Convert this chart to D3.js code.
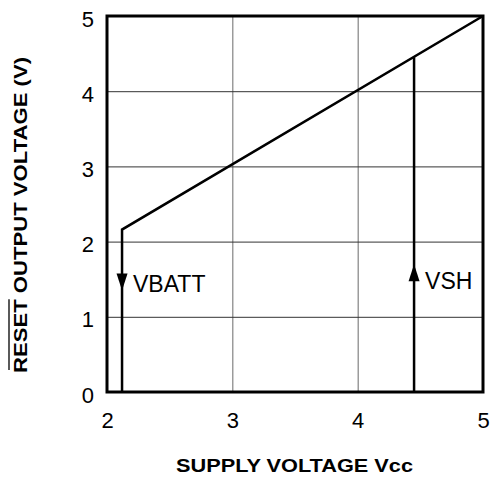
<!DOCTYPE html>
<html>
<head>
<meta charset="utf-8">
<script src="https://cdn.jsdelivr.net/npm/d3@7"></script>
<style>
  body { margin: 0; background: #fff; }
  text { font-family: Arial, "Liberation Sans", sans-serif; fill: #000; }
  .tick text { font-size: 22px; }
</style>
</head>
<body>
<div id="chart"></div>
<script>
// data
var xTicks = [2, 3, 4, 5];
var yTicks = [0, 1, 2, 3, 4, 5];
var resetX = [2.12, 2.12, 5];      // reset output curve
var resetY = [0, 2.16, 5];
var vshX = [4.45, 4.45];           // VSH threshold line
var vshY = [0, 4.45];
var markerNames = ["VBATT", "VSH"];
var markerX = [2.12, 4.45];
var markerTipY = [1.35, 1.70];
var markerDir = [1, -1];            // 1 = points down, -1 = points up
var labelY = [1.33, 1.37];

var width = 490, height = 481;
var margin = {top: 16, right: 7, bottom: 89, left: 107};
var w = width - margin.left - margin.right,
    h = height - margin.top - margin.bottom;

var svg = d3.select("#chart").append("svg")
    .attr("width", width).attr("height", height);

var g = svg.append("g")
    .attr("transform", "translate(" + margin.left + "," + margin.top + ")");

var x = d3.scaleLinear().domain([2, 5]).range([0, w]);
var y = d3.scaleLinear().domain([0, 5]).range([h, 0]);

// grid
var gx = g.append("g")
    .attr("transform", "translate(0," + h + ")")
    .call(d3.axisBottom(x).tickValues(xTicks).tickSize(-h).tickFormat(""));
gx.select(".domain").remove();
gx.selectAll("line").attr("stroke", "#6a6a6a").attr("stroke-width", 1);

var gy = g.append("g")
    .call(d3.axisLeft(y).tickValues(yTicks).tickSize(-w).tickFormat(""));
gy.select(".domain").remove();
gy.selectAll("line").attr("stroke", "#333").attr("stroke-width", 1);

// frame
g.append("rect")
    .attr("x", 0).attr("y", 0).attr("width", w).attr("height", h)
    .attr("fill", "none").attr("stroke", "#000").attr("stroke-width", 3);

// tick labels
var ax = g.append("g")
    .attr("transform", "translate(0," + h + ")")
    .call(d3.axisBottom(x).tickValues(xTicks).tickSize(0).tickPadding(20).tickFormat(d3.format("d")));
ax.select(".domain").remove();
ax.attr("font-size", null).attr("font-family", null);
ax.selectAll("text").attr("fill", "#000");

var ay = g.append("g")
    .call(d3.axisLeft(y).tickValues(yTicks).tickSize(0).tickPadding(13).tickFormat(d3.format("d")));
ay.select(".domain").remove();
ay.attr("font-size", null).attr("font-family", null);
ay.selectAll("text").attr("fill", "#000").attr("y", 3);

// curves
var line = d3.line().x(function(d) { return x(d[0]); }).y(function(d) { return y(d[1]); });

g.append("path")
    .datum(d3.zip(resetX, resetY))
    .attr("d", line)
    .attr("fill", "none").attr("stroke", "#000").attr("stroke-width", 2.5)
    .attr("stroke-linejoin", "miter");

g.append("path")
    .datum(d3.zip(vshX, vshY))
    .attr("d", line)
    .attr("fill", "none").attr("stroke", "#000").attr("stroke-width", 2.5);

// arrows + labels
markerNames.forEach(function(name, i) {
    var px = x(markerX[i]), py = y(markerTipY[i]), dir = markerDir[i];
    g.append("path")
        .attr("d", "M" + px + "," + py + "L" + (px - 5.5) + "," + (py - dir * 17) +
                   "L" + (px + 5.5) + "," + (py - dir * 17) + "Z")
        .attr("fill", "#000");
    g.append("text")
        .attr("x", px + 11)
        .attr("y", y(labelY[i]))
        .style("font-size", "23px")
        .text(name);
});

// axis titles
svg.append("text")
    .attr("x", margin.left + w / 2 - 0.5)
    .attr("y", 472)
    .attr("text-anchor", "middle")
    .attr("textLength", 237)
    .attr("lengthAdjust", "spacingAndGlyphs")
    .style("font-size", "18px").style("font-weight", "bold")
    .text("SUPPLY VOLTAGE Vcc");

var yTitle = "RESET OUTPUT VOLTAGE (V)";
var yLen = 316;
var yt = svg.append("g").attr("transform", "translate(26.5,215) rotate(-90)");
yt.append("text")
    .attr("x", 0).attr("y", 0)
    .attr("text-anchor", "middle")
    .attr("textLength", yLen)
    .attr("lengthAdjust", "spacingAndGlyphs")
    .style("font-size", "18px").style("font-weight", "bold")
    .text(yTitle);

// overline over RESET (active-low signal)
var probe = yt.append("text").style("font-size", "18px").style("font-weight", "bold").text(yTitle);
var full = probe.node().getComputedTextLength();
var resetLen = probe.node().getSubStringLength(0, 5);
probe.remove();
var k = yLen / full;
yt.append("line")
    .attr("x1", -yLen / 2 + 3).attr("x2", -yLen / 2 + resetLen * k)
    .attr("y1", -17.5).attr("y2", -17.5)
    .attr("stroke", "#000").attr("stroke-width", 1.3);
</script>
</body>
</html>
